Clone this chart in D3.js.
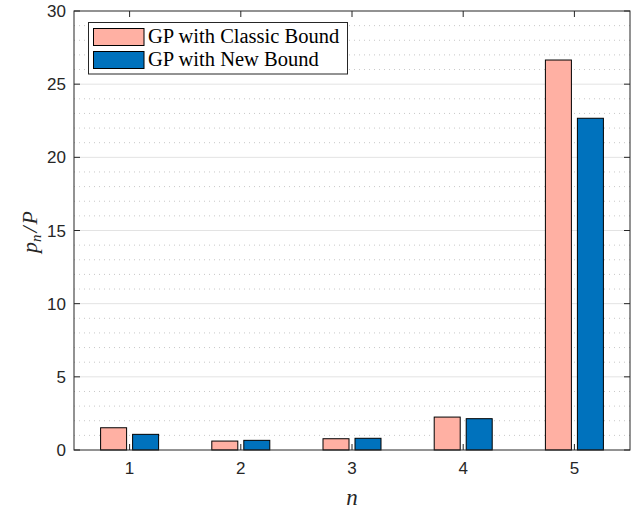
<!DOCTYPE html>
<html><head><meta charset="utf-8">
<script src="https://cdn.jsdelivr.net/npm/d3@7"></script>
<style>body{margin:0;background:#fff}svg{display:block}</style>
</head><body>
<script>
const categories = [1, 2, 3, 4, 5];
const seriesNames = ["GP with Classic Bound", "GP with New Bound"];
const classicBound = [1.52, 0.61, 0.77, 2.25, 26.65];
const newBound = [1.07, 0.66, 0.80, 2.14, 22.67];
const seriesColors = ["#FFB0A3", "#0072BD"];
const yTicks = [0, 5, 10, 15, 20, 25, 30];

const W = 642, H = 510;
const m = {l: 74, r: 12, t: 11, b: 60};
const iw = W - m.l - m.r, ih = H - m.t - m.b;
const svg = d3.select("body").append("svg").attr("width", W).attr("height", H);
const g = svg.append("g").attr("transform", `translate(${m.l},${m.t})`);

const x = d3.scaleLinear().domain([0.5, 5.5]).range([0, iw]);
const y = d3.scaleLinear().domain([0, 30]).range([ih, 0]);
const axisColor = "#262626";

// minor grid
const minor = d3.range(0, 31, 1).filter(v => v % 5 !== 0);
g.selectAll(".mg").data(minor).join("line")
  .attr("x1", 0).attr("x2", iw).attr("y1", d => y(d)).attr("y2", d => y(d))
  .attr("stroke", "#c8c8c8").attr("stroke-width", 1).attr("stroke-dasharray", "1,4");
// major grid
g.selectAll(".Mg").data(yTicks.slice(1, -1)).join("line")
  .attr("x1", 0).attr("x2", iw).attr("y1", d => y(d)).attr("y2", d => y(d))
  .attr("stroke", "#e3e3e3").attr("stroke-width", 1);

// bars
const bw = 26, off = 16;
const series = [classicBound, newBound];
series.forEach((vals, si) => {
  g.selectAll(".b" + si).data(categories).join("rect")
    .attr("x", (d, i) => x(d) + (si === 0 ? -off : off) - bw / 2)
    .attr("y", (d, i) => y(vals[i]))
    .attr("width", bw)
    .attr("height", (d, i) => y(0) - y(vals[i]))
    .attr("fill", seriesColors[si]).attr("stroke", "#000").attr("stroke-width", 1);
});

// axes box
const ax = g.append("g");
ax.append("rect").attr("x", 0).attr("y", 0).attr("width", iw).attr("height", ih)
  .attr("fill", "none").attr("stroke", axisColor).attr("stroke-width", 1);
yTicks.forEach(v => {
  ax.append("line").attr("x1", 0).attr("x2", 6).attr("y1", y(v)).attr("y2", y(v)).attr("stroke", axisColor);
  ax.append("line").attr("x1", iw).attr("x2", iw - 6).attr("y1", y(v)).attr("y2", y(v)).attr("stroke", axisColor);
});
categories.forEach(c => {
  ax.append("line").attr("x1", x(c)).attr("x2", x(c)).attr("y1", ih).attr("y2", ih - 6).attr("stroke", axisColor);
  ax.append("line").attr("x1", x(c)).attr("x2", x(c)).attr("y1", 0).attr("y2", 6).attr("stroke", axisColor);
});
// tick labels
g.selectAll(".yl").data(yTicks).join("text")
  .attr("x", -8).attr("y", d => y(d)).attr("dy", "0.36em")
  .attr("text-anchor", "end").attr("font-family", "Liberation Sans, Arial, sans-serif")
  .attr("font-size", 17).attr("fill", axisColor).text(d => d);
g.selectAll(".xl").data(categories).join("text")
  .attr("x", d => x(d)).attr("y", ih + 24)
  .attr("text-anchor", "middle").attr("font-family", "Liberation Sans, Arial, sans-serif")
  .attr("font-size", 17).attr("fill", axisColor).text(d => d);

// axis titles
svg.append("text").attr("x", m.l + iw / 2).attr("y", 505).attr("text-anchor", "middle")
  .attr("font-family", "Liberation Serif, serif").attr("font-style", "italic").attr("font-size", 23)
  .attr("fill", axisColor).text("n");
const yl = svg.append("text").attr("transform", `translate(37,232) rotate(-90)`)
  .attr("text-anchor", "middle").attr("font-family", "Liberation Serif, serif")
  .attr("font-style", "italic").attr("font-size", 22).attr("fill", axisColor);
yl.append("tspan").text("p");
yl.append("tspan").attr("font-size", 15).attr("dy", 4).text("n");
yl.append("tspan").attr("dy", -4).attr("dx", 2).text("/");
yl.append("tspan").attr("dx", 2).text("P");

// legend
const lg = svg.append("g");
lg.append("rect").attr("x", 88.5).attr("y", 22.5).attr("width", 259).attr("height", 51.5)
  .attr("fill", "#fff").attr("stroke", axisColor).attr("stroke-width", 1);
seriesNames.forEach((name, i) => {
  const yy = 28.5 + i * 23;
  lg.append("rect").attr("x", 93.5).attr("y", yy).attr("width", 50.5).attr("height", 17)
    .attr("fill", seriesColors[i]).attr("stroke", "#000");
  lg.append("text").attr("x", 148).attr("y", yy + 14.5)
    .attr("font-family", "Liberation Serif, serif").attr("font-size", 20.5)
    .attr("fill", "#000").text(name);
});
</script>
</body></html>
